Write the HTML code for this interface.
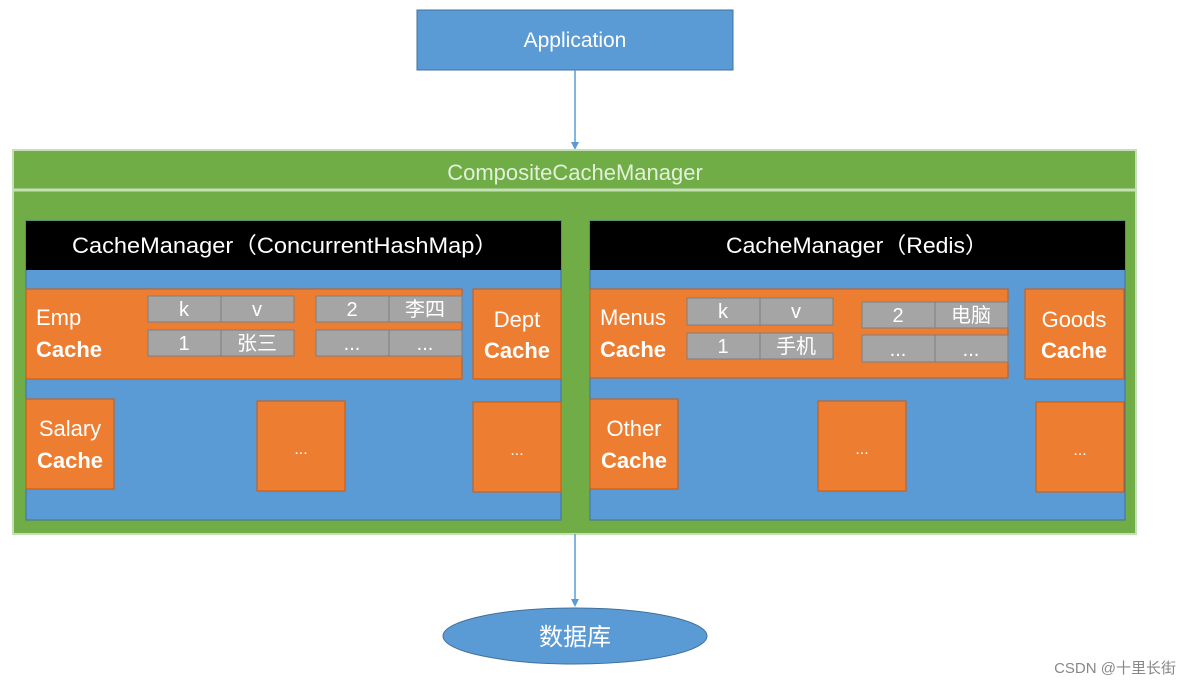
<!DOCTYPE html>
<html><head><meta charset="utf-8"><style>
html,body{margin:0;padding:0;background:#fff;width:1191px;height:685px;overflow:hidden}
svg{display:block}
text{font-family:"Liberation Sans","Noto Sans CJK SC",sans-serif;fill:#fff}
</style></head><body>
<svg width="1191" height="685" viewBox="0 0 1191 685" xmlns="http://www.w3.org/2000/svg">
<rect x="417" y="10" width="316" height="60" fill="#5b9bd5" stroke="#41719c"/>
<text x="575" y="47" font-size="21" text-anchor="middle">Application</text>
<line x1="575" y1="70" x2="575" y2="143" stroke="#5b9bd5" stroke-width="1.5"/>
<polygon points="571,142 579,142 575,150" fill="#5b9bd5"/>
<rect x="13" y="150" width="1123" height="384" fill="#70ad47" stroke="#c5e0b4" stroke-width="2"/>
<line x1="13" y1="190" x2="1136" y2="190" stroke="#c5e0b4" stroke-width="3"/>
<text x="575" y="180" font-size="22" text-anchor="middle" style="fill:#e2f0d9">CompositeCacheManager</text>

<g>
<rect x="26" y="221" width="535" height="299" fill="#5b9bd5" stroke="#41719c"/>
<rect x="26" y="221" width="535" height="49" fill="#000"/>
<text x="285" y="253" font-size="22" text-anchor="middle" textLength="426" lengthAdjust="spacingAndGlyphs">CacheManager（ConcurrentHashMap）</text>
<rect x="26" y="289" width="436" height="90" fill="#ed7d31" stroke="#c55a11"/>
<text x="36" y="325" font-size="22">Emp</text>
<text x="36" y="357" font-size="22" font-weight="bold">Cache</text>
<g fill="#a5a5a5" stroke="#7f7f7f">
<rect x="148" y="296" width="73" height="26"/><rect x="221" y="296" width="73" height="26"/>
<rect x="148" y="330" width="73" height="26"/><rect x="221" y="330" width="73" height="26"/>
<rect x="316" y="296" width="73" height="26"/><rect x="389" y="296" width="73" height="26"/>
<rect x="316" y="330" width="73" height="26"/><rect x="389" y="330" width="73" height="26"/>
</g>
<g font-size="20" text-anchor="middle">
<text x="184" y="316">k</text><text x="257" y="316">v</text>
<text x="184" y="350">1</text><text x="257" y="350">张三</text>
<text x="352" y="316">2</text><text x="425" y="316">李四</text>
<text x="352" y="350">...</text><text x="425" y="350">...</text>
</g>
<rect x="473" y="289" width="88" height="90" fill="#ed7d31" stroke="#c55a11"/>
<text x="517" y="327" font-size="22" text-anchor="middle">Dept</text>
<text x="517" y="358" font-size="22" font-weight="bold" text-anchor="middle">Cache</text>
<rect x="26" y="399" width="88" height="90" fill="#ed7d31" stroke="#c55a11"/>
<text x="70" y="436" font-size="22" text-anchor="middle">Salary</text>
<text x="70" y="468" font-size="22" font-weight="bold" text-anchor="middle">Cache</text>
<rect x="257" y="401" width="88" height="90" fill="#ed7d31" stroke="#c55a11"/>
<text x="301" y="454" font-size="16" text-anchor="middle">...</text>
<rect x="473" y="402" width="88" height="90" fill="#ed7d31" stroke="#c55a11"/>
<text x="517" y="455" font-size="16" text-anchor="middle">...</text>
</g>

<g>
<rect x="590" y="221" width="535" height="299" fill="#5b9bd5" stroke="#41719c"/>
<rect x="590" y="221" width="535" height="49" fill="#000"/>
<text x="857" y="253" font-size="22" text-anchor="middle" textLength="262" lengthAdjust="spacingAndGlyphs">CacheManager（Redis）</text>
<rect x="590" y="289" width="418" height="89" fill="#ed7d31" stroke="#c55a11"/>
<text x="600" y="325" font-size="22">Menus</text>
<text x="600" y="357" font-size="22" font-weight="bold">Cache</text>
<g fill="#a5a5a5" stroke="#7f7f7f">
<rect x="687" y="298" width="73" height="27"/><rect x="760" y="298" width="73" height="27"/>
<rect x="687" y="333" width="73" height="26"/><rect x="760" y="333" width="73" height="26"/>
<rect x="862" y="302" width="73" height="26"/><rect x="935" y="302" width="73" height="26"/>
<rect x="862" y="335" width="73" height="27"/><rect x="935" y="335" width="73" height="27"/>
</g>
<g font-size="20" text-anchor="middle">
<text x="723" y="318">k</text><text x="796" y="318">v</text>
<text x="723" y="353">1</text><text x="796" y="353">手机</text>
<text x="898" y="322">2</text><text x="971" y="322">电脑</text>
<text x="898" y="356">...</text><text x="971" y="356">...</text>
</g>
<rect x="1025" y="289" width="99" height="90" fill="#ed7d31" stroke="#c55a11"/>
<text x="1074" y="327" font-size="22" text-anchor="middle">Goods</text>
<text x="1074" y="358" font-size="22" font-weight="bold" text-anchor="middle">Cache</text>
<rect x="590" y="399" width="88" height="90" fill="#ed7d31" stroke="#c55a11"/>
<text x="634" y="436" font-size="22" text-anchor="middle">Other</text>
<text x="634" y="468" font-size="22" font-weight="bold" text-anchor="middle">Cache</text>
<rect x="818" y="401" width="88" height="90" fill="#ed7d31" stroke="#c55a11"/>
<text x="862" y="454" font-size="16" text-anchor="middle">...</text>
<rect x="1036" y="402" width="88" height="90" fill="#ed7d31" stroke="#c55a11"/>
<text x="1080" y="455" font-size="16" text-anchor="middle">...</text>
</g>

<line x1="575" y1="534" x2="575" y2="600" stroke="#5b9bd5" stroke-width="1.5"/>
<polygon points="571,599 579,599 575,607" fill="#5b9bd5"/>
<ellipse cx="575" cy="636" rx="132" ry="28" fill="#5b9bd5" stroke="#41719c"/>
<text x="575" y="645" font-size="24" text-anchor="middle">数据库</text>
<text x="1176" y="673" font-size="15" text-anchor="end" style="fill:#888">CSDN @十里长街</text>
</svg>
</body></html>
